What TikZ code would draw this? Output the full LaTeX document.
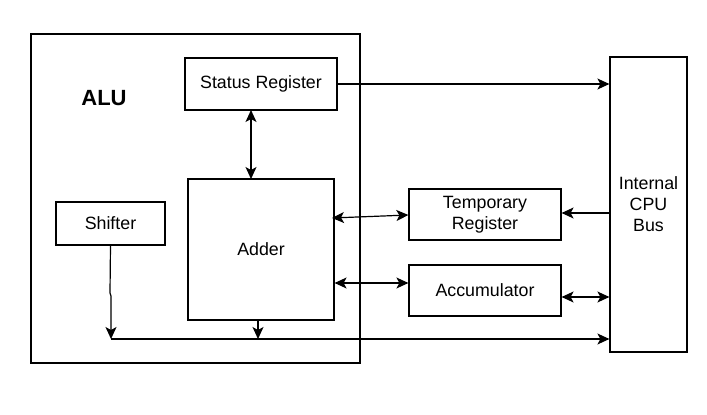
\documentclass[tikz,border=0pt]{standalone}
\usepackage{fontspec}
\setmainfont{Liberation Sans}
\usetikzlibrary{arrows.meta}
\begin{document}
\begin{tikzpicture}[x=1pt,y=-1pt,
  box/.style={draw,line width=1.2pt,minimum width=0pt,minimum height=0pt,inner sep=0pt,font=\fontsize{17.8}{21}\selectfont,align=center},
  conn/.style={line width=1.2pt},
  tip/.style={-{Stealth[length=12pt,width=11pt,inset=3pt]}},
  dtip/.style={{Stealth[length=12pt,width=11pt,inset=3pt]}-{Stealth[length=12pt,width=11pt,inset=3pt]}}]
\fill[white] (0,0) rectangle (707,415);
\useasboundingbox (0,0) rectangle (707,415);
\node[box,minimum width=329pt,minimum height=329pt] (alu) at (195.5,198.5) {};
\node[font=\fontsize{22}{26}\selectfont\bfseries] (alulbl) at (104,98) {ALU};
\node[box,minimum width=152pt,minimum height=52pt] (status) at (261,84) {Status Register};
\node[box,minimum width=146pt,minimum height=141pt] (adder) at (261,249.5) {Adder};
\node[box,minimum width=109pt,minimum height=43pt] (shifter) at (110.5,223.5) {Shifter};
\node[box,minimum width=152pt,minimum height=51pt] (temp) at (485,214.5) {Temporary\\Register};
\node[box,minimum width=152pt,minimum height=51pt] (acc) at (485,290.5) {Accumulator};
\node[box,minimum width=77pt,minimum height=295pt] (bus) at (648.5,204.5) {Internal\\CPU\\Bus};
\coordinate (shjog1) at (110,293);
\coordinate (shjog2) at (111,296);
\coordinate (shend) at (111,339);
\coordinate (adbot) at (258,339);
% Status -> bus
\draw[conn,tip] (status.east |- 0,84) -- (bus.west |- 0,84);
% Status <-> Adder
\draw[conn,dtip] (251,110) -- (251,179);
% Temp <-> Adder
\draw[conn,dtip] (332,218) -- (temp.west |- 0,215);
% bus -> temp
\draw[conn,tip] (bus.west |- 0,213) -- (temp.east |- 0,213);
% Adder <-> Acc
\draw[conn,dtip] (adder.east |- 0,283) -- (acc.west |- 0,283);
% Acc <-> bus
\draw[conn,dtip] (acc.east |- 0,297) -- (bus.west |- 0,297);
% Shifter down
\draw[conn,tip] (shifter.south |- 0,245) -- (shjog1) -- (shjog2) -- (shend);
% bottom line
\draw[conn,tip] (shend) -- (bus.west |- 0,339);
% Adder down
\draw[conn,tip] (adder.south -| 258,0) -- (adbot);
\end{tikzpicture}
\end{document}
